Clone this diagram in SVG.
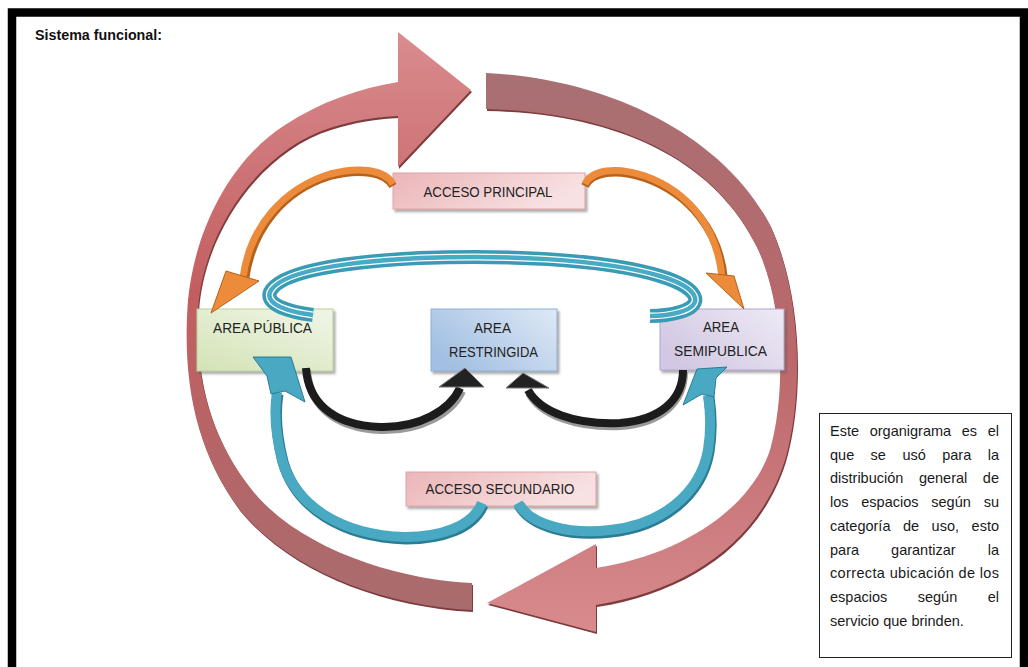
<svg xmlns="http://www.w3.org/2000/svg" width="1028" height="667" viewBox="0 0 1028 667">
<defs>
<style>
.lbl{font-family:"Liberation Sans",Arial,sans-serif;font-size:14px;fill:#222;text-anchor:middle}
.note{font-family:"Liberation Sans",Arial,sans-serif;font-size:14.5px;fill:#1a1a1a}
.box{stroke-width:1}
.teal{fill:none;stroke:#49a9c3;stroke-linecap:butt}
.tealsh{fill:none;stroke:#2a7d93}
.blk{fill:none;stroke:#1c1c1c}
.blksh{fill:none;stroke:#9a9a9a}
.org{fill:none;stroke:#ec8b3a}
.orgsh{fill:none;stroke:#b5621c}
.rib{fill:none}
</style>
<filter id="sh" x="-10%" y="-15%" width="125%" height="140%">
<feDropShadow dx="2" dy="2.5" stdDeviation="1.2" flood-color="#555" flood-opacity="0.5"/>
</filter>
<linearGradient id="gPink" x1="0" y1="0" x2="1" y2="0.3">
<stop offset="0" stop-color="#ebb5b8"/><stop offset="1" stop-color="#f8e1e2"/>
</linearGradient>
<linearGradient id="gGreen" x1="0.8" y1="0" x2="0" y2="1">
<stop offset="0" stop-color="#eef4e3"/><stop offset="1" stop-color="#d3e3b6"/>
</linearGradient>
<linearGradient id="gBlue" x1="0" y1="0.6" x2="1" y2="0">
<stop offset="0" stop-color="#a3c0e3"/><stop offset="1" stop-color="#dfe9f5"/>
</linearGradient>
<linearGradient id="gPurple" x1="0" y1="0.6" x2="1" y2="0">
<stop offset="0" stop-color="#d2c8e3"/><stop offset="1" stop-color="#eeeaf4"/>
</linearGradient>
<linearGradient id="gLeftArc" x1="0" y1="0" x2="0" y2="1" gradientUnits="objectBoundingBox">
<stop offset="0" stop-color="#d98c8e"/><stop offset="0.45" stop-color="#c35e60"/><stop offset="1" stop-color="#a96c6e"/>
</linearGradient>
<linearGradient id="gRightArc" x1="0" y1="0" x2="0" y2="1" gradientUnits="objectBoundingBox">
<stop offset="0" stop-color="#a87073"/><stop offset="0.5" stop-color="#bb676a"/><stop offset="1" stop-color="#d88a8c"/>
</linearGradient>
<path id="ribbon" d="M313,315 C290,312 265,305 270,292 C280,272 340,262 420,258 C500,255 600,258 660,276 C700,288 705,305 680,312 C670,315 660,316 650,316"/>
<path id="leftArcShape" d="M472,583 C400,580 300,550 252,490 C212,440 194,380 198,310 C203,230 260,150 330,128 C355,120 375,117 398,116 L398,167 L471,90 L398,32 L398,82 C360,88 320,102 285,125 C230,160 195,230 188,300 C182,380 195,450 240,510 C290,570 380,605 472,610 Z"/>
<path id="rightArcShape" d="M486,73 C600,78 720,130 770,225 C800,290 805,390 785,460 C760,540 690,590 596,605 L596,632 L487,603 L596,544 L596,568 C680,555 750,510 770,450 C787,390 783,300 756,245 C714,160 620,112 486,109 Z"/>
</defs>

<rect x="0" y="0" width="1028" height="667" fill="#fff"/>
<rect x="12" y="12.5" width="1012" height="720" fill="#fff" stroke="#000" stroke-width="8.5"/>
<text x="35" y="40" font-family="'Liberation Sans',Arial,sans-serif" font-size="14" font-weight="bold" fill="#111" textLength="127" lengthAdjust="spacingAndGlyphs">Sistema funcional:</text>

<g id="cycle">
<g transform="translate(1,2)" fill="#7e3c3f">
<use href="#leftArcShape"/>
<use href="#rightArcShape"/>
</g>
<use href="#leftArcShape" fill="url(#gLeftArc)"/>
<use href="#rightArcShape" fill="url(#gRightArc)"/>
</g>

<g id="acceso-principal">
<rect class="box" x="393" y="173" width="192" height="36" fill="url(#gPink)" stroke="#dfa3a6" filter="url(#sh)"/>
<text class="lbl" x="488" y="197" textLength="129" lengthAdjust="spacingAndGlyphs">ACCESO PRINCIPAL</text>
</g>
<g id="area-publica">
<rect class="box" x="197" y="309" width="136" height="62" fill="url(#gGreen)" stroke="#bccf9a" filter="url(#sh)"/>
<text class="lbl" x="262.5" y="333" textLength="99" lengthAdjust="spacingAndGlyphs">AREA PÚBLICA</text>
</g>
<g id="area-restringida">
<rect class="box" x="431" y="309" width="126" height="62" fill="url(#gBlue)" stroke="#8fb0d6" filter="url(#sh)"/>
<text class="lbl" x="492.5" y="333" textLength="37" lengthAdjust="spacingAndGlyphs">AREA</text>
<text class="lbl" x="493.5" y="357" textLength="89" lengthAdjust="spacingAndGlyphs">RESTRINGIDA</text>
</g>
<g id="area-semipublica">
<rect class="box" x="660" y="309" width="124" height="61" fill="url(#gPurple)" stroke="#b3a6cb" filter="url(#sh)"/>
<text class="lbl" x="721" y="332" textLength="36" lengthAdjust="spacingAndGlyphs">AREA</text>
<text class="lbl" x="720.5" y="356" textLength="93" lengthAdjust="spacingAndGlyphs">SEMIPUBLICA</text>
</g>
<g id="acceso-secundario">
<rect class="box" x="406" y="472" width="190" height="34" fill="url(#gPink)" stroke="#dfa3a6" filter="url(#sh)"/>
<text class="lbl" x="500" y="494" textLength="149" lengthAdjust="spacingAndGlyphs">ACCESO SECUNDARIO</text>
</g>

<g id="connectors">
<!-- orange: acceso principal to areas -->
<path class="orgsh" stroke-width="8" d="M393,186 C385,172 360,168 330,176 C285,190 252,227 245,280"/>
<path class="org" stroke-width="7" d="M393,184 C385,170 360,166 330,174 C285,188 250,225 243,278"/>
<polygon points="226,271 259,281 211,313" fill="#ec8b3a" stroke="#b5621c" stroke-width="1"/>
<path class="orgsh" stroke-width="8" d="M585,186 C592,172 615,168 645,178 C690,194 720,232 724,280"/>
<path class="org" stroke-width="7" d="M585,184 C592,170 615,166 645,176 C690,192 718,230 722,278"/>
<polygon points="706,273 734,276 744,309" fill="#ec8b3a" stroke="#b5621c" stroke-width="1"/>

<!-- teal ribbon between publica and semipublica -->
<use href="#ribbon" class="rib" stroke="#3a9bb4" stroke-width="14"/>
<use href="#ribbon" class="rib" stroke="#fff" stroke-width="7"/>
<use href="#ribbon" class="rib" stroke="#48abc5" stroke-width="4.5"/>

<!-- black arrows to restringida -->
<path class="blksh" stroke-width="8" d="M307,370 C309,402 331,428 381,430 C421,431 452,413 462,391"/>
<path class="blk" stroke-width="8" d="M306,368 C308,400 330,425 380,427 C420,428 450,410 460,388"/>
<polygon points="439,387 484,387 465,368" fill="#222" stroke="#777" stroke-width="1"/>
<path class="blksh" stroke-width="8" d="M684,372 C684,402 661,423 621,426 C576,428 541,415 529,393"/>
<path class="blk" stroke-width="8" d="M683,370 C683,400 660,420 620,423 C575,425 540,412 528,390"/>
<polygon points="506,388 549,388 523,373" fill="#222" stroke="#777" stroke-width="1"/>

<!-- teal arrows from acceso secundario -->
<path class="tealsh" stroke-width="11" d="M483,505 C473,529 441,539 406,539 C341,537 296,507 283,462 C276,434 275,412 278,394"/>
<path class="teal" stroke-width="10" d="M482,503 C472,527 440,537 405,537 C340,535 295,505 282,460 C275,432 274,410 277,392"/>
<polygon points="253,357 291,357 305,402 285,391 271,394 267,376" fill="#49a9c3" stroke="#2a7d93" stroke-width="1"/>
<path class="tealsh" stroke-width="11" d="M519,505 C531,527 571,537 611,532 C661,527 701,497 709,452 C713,427 711,410 709,397"/>
<path class="teal" stroke-width="10" d="M518,503 C530,525 570,535 610,530 C660,525 700,495 708,450 C712,425 710,408 708,395"/>
<polygon points="727,367 697,369 683,405 702,394 714,397 716,378" fill="#49a9c3" stroke="#2a7d93" stroke-width="1"/>
</g>

<g id="nota">
<rect x="819.5" y="413.5" width="192" height="244" fill="#fff" stroke="#222" stroke-width="1"/>
<text class="note" y="436"><tspan x="830">Este</tspan><tspan x="869.7">organigrama</tspan><tspan x="961.7">es</tspan><tspan x="999" text-anchor="end">el</tspan></text>
<text class="note" y="459.7"><tspan x="830">que</tspan><tspan x="870.6">se</tspan><tspan x="902.4">usó</tspan><tspan x="942.2">para</tspan><tspan x="999" text-anchor="end">la</tspan></text>
<text class="note" y="483.4"><tspan x="830">distribución</tspan><tspan x="918.9">general</tspan><tspan x="999" text-anchor="end">de</tspan></text>
<text class="note" y="507.1"><tspan x="830">los</tspan><tspan x="861.3">espacios</tspan><tspan x="931.3">según</tspan><tspan x="999" text-anchor="end">su</tspan></text>
<text class="note" y="530.8"><tspan x="830">categoría</tspan><tspan x="903">de</tspan><tspan x="931.6">uso,</tspan><tspan x="999" text-anchor="end">esto</tspan></text>
<text class="note" y="554.5"><tspan x="830">para</tspan><tspan x="891.1">garantizar</tspan><tspan x="999" text-anchor="end">la</tspan></text>
<text class="note" x="830" y="578.2" textLength="169" lengthAdjust="spacing">correcta ubicación de los</text>
<text class="note" y="601.9"><tspan x="830">espacios</tspan><tspan x="917.7">según</tspan><tspan x="999" text-anchor="end">el</tspan></text>
<text class="note" x="830" y="625.6">servicio que brinden.</text>
</g>
</svg>
